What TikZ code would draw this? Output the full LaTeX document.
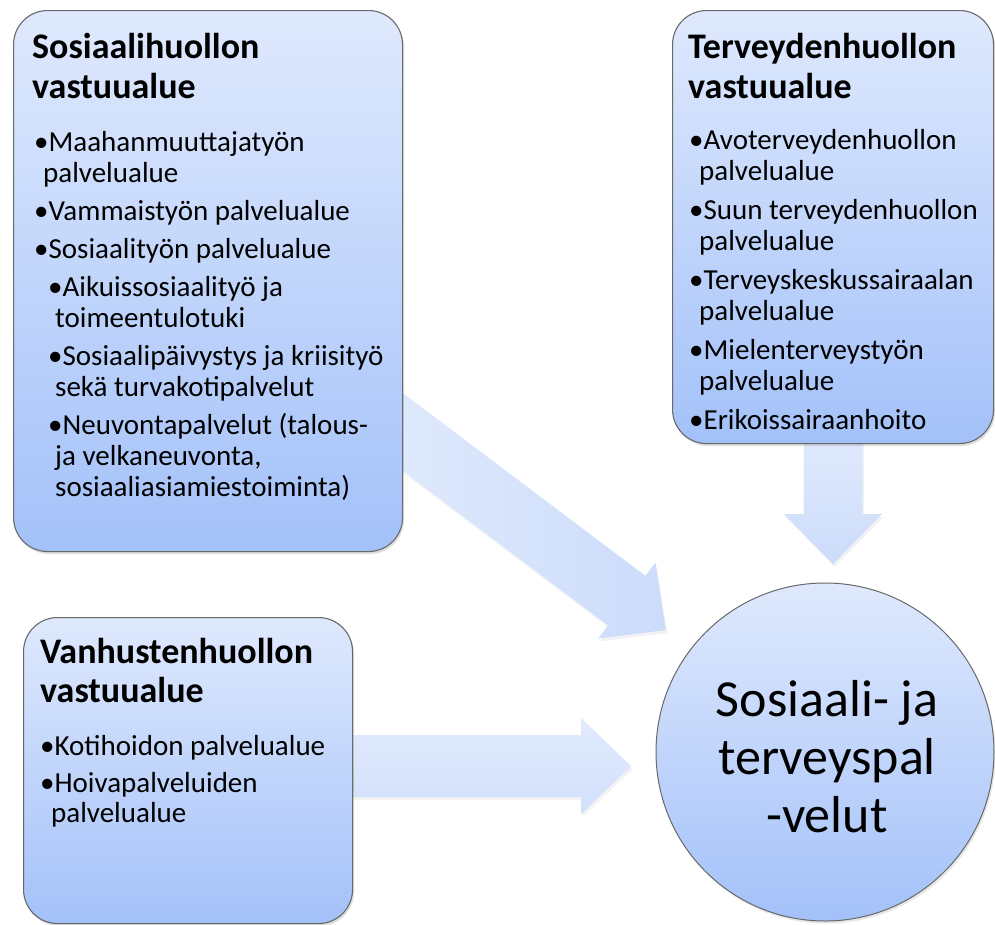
\documentclass[tikz,border=0pt]{standalone}
\usepackage{fontspec}
\setmainfont{Carlito}
\usetikzlibrary{shadows,calc}
\definecolor{boxtop}{RGB}{223,233,253}
\definecolor{boxbot}{RGB}{163,193,249}
\definecolor{arrA}{RGB}{226,235,253}
\definecolor{arrB}{RGB}{203,219,250}
\definecolor{bordc}{RGB}{105,105,105}
\pgfdeclarelayer{bg}
\pgfsetlayers{bg,main}
\begin{document}
\begin{tikzpicture}[x=1pt,y=-1pt,
  box/.style={draw=bordc, line width=1.1pt, rounded corners=34pt, top color=boxtop, bottom color=boxbot,
    drop shadow={opacity=0.25, shadow xshift=1.5pt, shadow yshift=-2.5pt}, inner sep=0, anchor=north west},
  ball/.style={circle, draw=bordc, line width=1pt, top color=boxtop, bottom color=boxbot, inner sep=0,
    drop shadow={opacity=0.2, shadow xshift=1.5pt, shadow yshift=-2.5pt}},
  blockarrow/.style={draw=none, drop shadow={opacity=0.1, shadow xshift=1.5pt, shadow yshift=-3pt}},
  ttl/.style={anchor=base west, inner sep=0, font=\bfseries\fontsize{36}{37}\selectfont},
  itm/.style={anchor=base west, inner sep=0, font=\fontsize{29}{29}\selectfont},
  big/.style={anchor=base, inner sep=0, font=\fontsize{52}{58}\selectfont}]
\useasboundingbox (0,0) rectangle (995,924);

% boxes
\node[box, minimum width=389pt, minimum height=541pt] (b1) at (13,10) {};
\node[box, minimum width=321pt, minimum height=433pt] (b2) at (672,10) {};
\node[box, minimum width=329pt, minimum height=306pt] (b3) at (23,617) {};
\node[ball, minimum size=338pt] (c) at (825,752) {};

% arrows (behind)
\begin{pgfonlayer}{bg}
\path[blockarrow, left color=arrA, right color=arrB]
  [shift={($(b1.south east)+(0,-120)$)}, rotate=-37]
  (-30,-31) -- (280,-31) -- (280,-47.5) -- (329,0) -- (280,47.5) -- (280,31) -- (-30,31) -- cycle;
\path[blockarrow, top color=arrA, bottom color=arrB]
  [shift={(b2.south)}]
  (-29.5,-13) -- (-29.5,70) -- (-49,70) -- (0,120) -- (49,70) -- (29.5,70) -- (29.5,-13) -- cycle;
\path[blockarrow, top color=arrA, bottom color=arrB!70!arrA]
  [shift={($(b3.east)+(0,-4.5)$)}]
  (-20,-31) -- (228,-31) -- (228,-48) -- (278,0) -- (228,48) -- (228,31) -- (-20,31) -- cycle;
\end{pgfonlayer}

% box 1 text
\node[ttl] (t1a) at (32,58) {Sosiaalihuollon};
\node[ttl] (t1b) at (32,98) {vastuualue};
\node[itm] (i1a) at (34,151) {•Maahanmuuttajatyön};
\node[itm] (i1b) at (43,182) {palvelualue};
\node[itm] (i1c) at (34,220) {•Vammaistyön palvelualue};
\node[itm] (i1d) at (34,258) {•Sosiaalityön palvelualue};
\node[itm] (i1e) at (48,296) {•Aikuissosiaalityö ja};
\node[itm] (i1f) at (55,327) {toimeentulotuki};
\node[itm] (i1g) at (48,365) {•Sosiaalipäivystys ja kriisityö};
\node[itm] (i1h) at (55,396) {sekä turvakotipalvelut};
\node[itm] (i1i) at (48,434) {•Neuvontapalvelut (talous-};
\node[itm] (i1j) at (55,465) {ja velkaneuvonta,};
\node[itm] (i1k) at (55,496) {sosiaaliasiamiestoiminta)};

% box 2 text
\node[ttl] (t2a) at (688,58) {Terveydenhuollon};
\node[ttl] (t2b) at (688,98) {vastuualue};
\node[itm] (i2a) at (689,149) {•Avoterveydenhuollon};
\node[itm] (i2b) at (699,180) {palvelualue};
\node[itm] (i2c) at (689,219) {•Suun terveydenhuollon};
\node[itm] (i2d) at (699,250) {palvelualue};
\node[itm] (i2e) at (689,289) {•Terveyskeskussairaalan};
\node[itm] (i2f) at (699,320) {palvelualue};
\node[itm] (i2g) at (689,359) {•Mielenterveystyön};
\node[itm] (i2h) at (699,390) {palvelualue};
\node[itm] (i2i) at (689,429) {•Erikoissairaanhoito};

% box 3 text
\node[ttl] (t3a) at (40,663) {Vanhustenhuollon};
\node[ttl] (t3b) at (40,702) {vastuualue};
\node[itm] (i3a) at (40,755) {•Kotihoidon palvelualue};
\node[itm] (i3b) at (40,792) {•Hoivapalveluiden};
\node[itm] (i3c) at (51,822) {palvelualue};

% circle text
\node[big] (c1) at (827,716) {Sosiaali- ja};
\node[big] (c2) at (827,774) {terveyspal};
\node[big] (c3) at (827,832) {-velut};
\end{tikzpicture}
\end{document}
